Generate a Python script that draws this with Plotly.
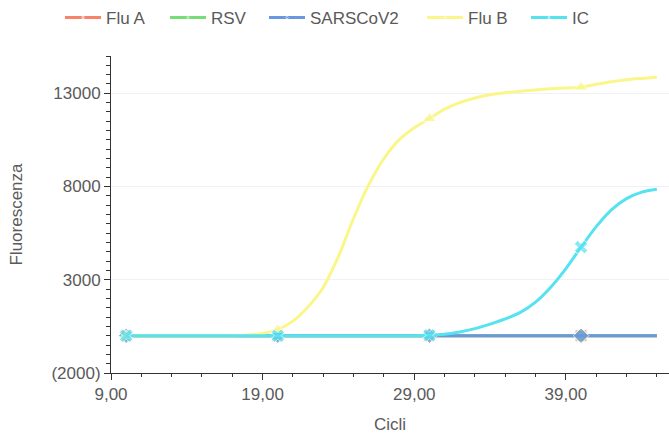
import plotly.graph_objects as go

# Amplification cycles and fluorescence readings per target
cycles = list(range(10, 46))

flu_a = [0] * 36
rsv = [0] * 36
sarscov2 = [0] * 36
flu_b = [0, 0, 0, 0, 0, 0, 0, 0, 40, 120, 330, 780, 1550, 2600, 4250, 6300,
         8100, 9500, 10500, 11150, 11650, 12150, 12500, 12750, 12920, 13030,
         13110, 13180, 13240, 13290, 13330, 13480, 13620, 13730, 13800, 13860]
ic = [0] * 20 + [20, 80, 200, 380, 620, 900, 1250, 1800, 2600, 3600, 4750,
                 5850, 6750, 7350, 7700, 7850]

x_tickvals = [9, 19, 29, 39]
x_ticktext = ["9,00", "19,00", "29,00", "39,00"]
y_tickvals = [-2000, 3000, 8000, 13000]
y_ticktext = ["(2000)", "3000", "8000", "13000"]

series = [
    ("Flu A", flu_a, "#F7836B", "square"),
    ("RSV", rsv, "#77DD77", "circle"),
    ("SARSCoV2", sarscov2, "#6A98E0", "diamond"),
    ("Flu B", flu_b, "#FAF68A", "triangle-up"),
    ("IC", ic, "#55E3F2", "x"),
]

# left edge (px) of each legend entry along the top row
legend_px = [60, 165, 264, 422, 526]

# markers only every tenth cycle
marker_sizes = [12 if c % 10 == 0 else 0 for c in cycles]

font = dict(family="Liberation Sans, Arial, sans-serif", size=17, color="#5a5a5a")

fig = go.Figure()
legend_layouts = {}
for i, (name, values, color, symbol) in enumerate(series):
    key = "legend" if i == 0 else f"legend{i + 1}"
    fig.add_trace(go.Scatter(
        x=cycles, y=values, name=name, mode="lines+markers", legend=key,
        line=dict(color=color, width=3, shape="spline", smoothing=0.8),
        marker=dict(color=color, symbol=symbol, size=marker_sizes),
    ))
    legend_layouts[key] = dict(
        orientation="h", xref="container", yref="container",
        x=legend_px[i] / 669, xanchor="left", y=1.0, yanchor="top",
        font=font, itemwidth=36, bgcolor="rgba(0,0,0,0)",
    )

fig.update_layout(
    width=669, height=435,
    margin=dict(l=111, r=0, t=56, b=62),
    paper_bgcolor="white", plot_bgcolor="white",
    font=font,
    showlegend=True,
    xaxis=dict(
        range=[9, 45.8], tickmode="array", tickvals=x_tickvals, ticktext=x_ticktext,
        showline=True, linecolor="#333", linewidth=1, showgrid=False, zeroline=False,
        ticks="outside", ticklen=6, tickcolor="#333",
        minor=dict(tick0=9, dtick=2, ticks="outside", ticklen=3, tickcolor="#333"),
        title=dict(text="Cicli", font=font, standoff=14),
    ),
    yaxis=dict(
        range=[-2000, 15000], tickmode="array", tickvals=y_tickvals, ticktext=y_ticktext,
        showline=True, linecolor="#333", linewidth=1, zeroline=False,
        showgrid=True, gridcolor="#eef2f7", gridwidth=1,
        ticks="outside", ticklen=6, tickcolor="#333",
        minor=dict(tick0=-2000, dtick=500, ticks="outside", ticklen=4, tickcolor="#333",
                   showgrid=False),
        title=dict(text="Fluorescenza", font=font, standoff=24),
    ),
    **legend_layouts,
)

fig.write_html("out.html")
